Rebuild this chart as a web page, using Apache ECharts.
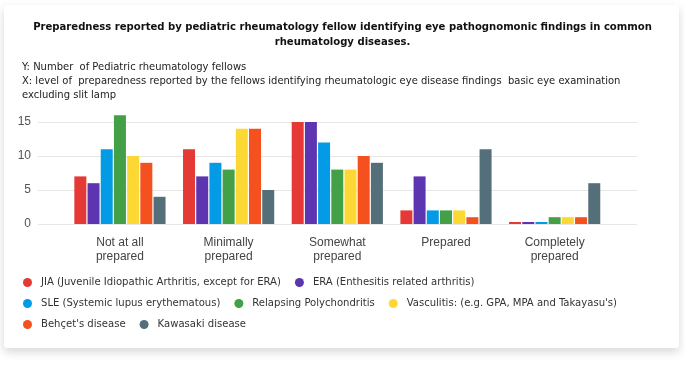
<!DOCTYPE html>
<html>
<head>
<meta charset="utf-8">
<script src="https://cdn.jsdelivr.net/npm/echarts@6/dist/echarts.min.js"></script>
<style>
  html, body { margin: 0; padding: 0; background: #fff; }
  #card {
    position: absolute; left: 4px; top: 5px; width: 675px; height: 343px;
    background: #fff; border-radius: 3px;
    box-shadow: 0 4px 10px rgba(0, 0, 0, 0.16);
  }
  #chart { position: absolute; left: 0; top: 0; width: 685px; height: 367px; }
</style>
</head>
<body>
<div id="card"></div>
<div id="chart"></div>
<script>
// categories (x axis)
const categories = [
  "Not at all\nprepared",
  "Minimally\nprepared",
  "Somewhat\nprepared",
  "Prepared",
  "Completely\nprepared",
];

// number of fellows per disease, one value per category
const jia = [7, 11, 15, 2, 0];
const era = [6, 7, 15, 7, 0];
const sle = [11, 9, 12, 2, 0];
const relapsing = [16, 8, 8, 2, 1];
const vasculitis = [10, 14, 8, 2, 1];
const behcet = [9, 14, 10, 1, 1];
const kawasaki = [4, 5, 9, 11, 6];

const seriesNames = [
  "JIA (Juvenile Idiopathic Arthritis, except for ERA)",
  "ERA (Enthesitis related arthritis)",
  "SLE (Systemic lupus erythematous)",
  "Relapsing Polychondritis",
  "Vasculitis: (e.g. GPA, MPA and Takayasu's)",
  "Behçet's disease",
  "Kawasaki disease",
];
const seriesData = [jia, era, sle, relapsing, vasculitis, behcet, kawasaki];
const colors = ["#E53935", "#5E35B1", "#039BE5", "#43A047", "#FDD835", "#F4511E", "#546E7A"];

const yTicks = { min: 0, max: 16, interval: 5 };

const chart = echarts.init(document.getElementById("chart"), null, { renderer: "canvas" });

const legendText = {
  fontFamily: "'DejaVu Sans Condensed', sans-serif",
  fontSize: 11.2,
  color: "#333",
  padding: [0, 0, 0, 4],
};

const legendBase = {
  icon: "circle",
  itemWidth: 9,
  itemHeight: 9,
  itemGap: 14,
  left: 23,
  orient: "horizontal",
  textStyle: legendText,
  padding: 0,
};

const option = {
  animation: false,
  color: colors,
  graphic: [
    {
      type: "text",
      left: "center",
      top: 20,
      style: {
        text: "Preparedness reported by pediatric rheumatology fellow identifying eye pathognomonic findings in common\nrheumatology diseases.",
        textAlign: "center",
        font: "bold 11.2px 'DejaVu Sans Condensed', sans-serif",
        lineHeight: 15,
        fill: "#111",
      },
    },
    {
      type: "text",
      left: 22,
      top: 60,
      style: {
        text: "Y: Number  of Pediatric rheumatology fellows\nX: level of  preparedness reported by the fellows identifying rheumatologic eye disease findings  basic eye examination\nexcluding slit lamp",
        font: "11.1px 'DejaVu Sans Condensed', sans-serif",
        lineHeight: 14,
        fill: "#222",
      },
    },
  ],
  legend: [
    Object.assign({}, legendBase, { top: 277, data: seriesNames.slice(0, 2) }),
    Object.assign({}, legendBase, { top: 298, data: seriesNames.slice(2, 5) }),
    Object.assign({}, legendBase, { top: 319, data: seriesNames.slice(5, 7) }),
  ],
  grid: [
    { left: 65.6, right: 76, top: 115.2, bottom: 143 },
    { left: 38, right: 48, top: 115.2, bottom: 143 },
  ],
  xAxis: [
    {
      gridIndex: 0,
      type: "category",
      data: categories,
      axisLine: { show: false },
      axisTick: { show: false },
      axisLabel: {
        margin: 12,
        fontFamily: "Arial, 'Liberation Sans', sans-serif",
        fontSize: 12,
        lineHeight: 14,
        color: "#444",
      },
    },
    { gridIndex: 1, type: "value", show: false },
  ],
  yAxis: [
    { gridIndex: 0, type: "value", min: yTicks.min, max: yTicks.max, show: false },
    {
      gridIndex: 1,
      type: "value",
      min: yTicks.min,
      max: yTicks.max,
      interval: yTicks.interval,
      axisLine: { show: false },
      axisTick: { show: false },
      axisLabel: {
        showMaxLabel: false,
        margin: 7,
        fontFamily: "Arial, 'Liberation Sans', sans-serif",
        fontSize: 12,
        color: "#555",
      },
      splitLine: { showMaxLine: false, lineStyle: { color: "#e6e6e6", width: 1 } },
    },
  ],
  series: seriesNames.map((name, i) => ({
    name: name,
    type: "bar",
    xAxisIndex: 0,
    yAxisIndex: 0,
    data: seriesData[i],
    barWidth: 12,
    barGap: "10%",
    barMinHeight: 2,
    itemStyle: { color: colors[i] },
  })),
};

chart.setOption(option);
</script>
</body>
</html>
